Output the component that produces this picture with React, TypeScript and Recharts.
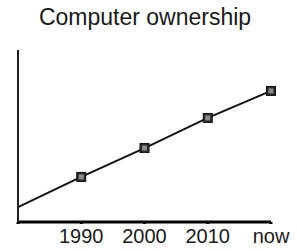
import React from 'react';
import { LineChart, Line, XAxis, YAxis } from 'recharts';

const years = [1980, 1990, 2000, 2010, 2020];
const ownership = [8.7, 26.2, 43, 60.5, 76.2];
const tickYears = [1980, 1990, 2000, 2010, 2020];
const tickLabels = ['', '1990', '2000', '2010', 'now'];

const data = years.map((year, i) => ({ year, ownership: ownership[i] }));

const fontFamily = '"Liberation Sans", Arial, Helvetica, sans-serif';

const SquareDot = (props: any) => {
  const { cx, cy, index } = props;
  if (index === 0 || cx == null || cy == null) return <g key={`dot-${index}`} />;
  return (
    <g key={`dot-${index}`}>
      <rect x={cx - 4.5} y={cy - 4.5} width={9} height={9} fill="#2a2a2a" stroke="#111" strokeWidth={1} />
      <rect x={cx - 2.5} y={cy - 2.5} width={5} height={5} fill="#8a8a8a" />
    </g>
  );
};

export default function App() {
  return (
    <div
      style={{
        position: 'absolute',
        left: 0,
        top: 0,
        width: 297,
        height: 251,
        background: '#fff',
        fontFamily,
      }}
    >
      <div
        style={{
          position: 'absolute',
          top: 6,
          left: 0,
          width: 290,
          textAlign: 'center',
          fontSize: 23,
          lineHeight: '22px',
          color: '#1a1a1a',
        }}
      >
        Computer ownership
      </div>
      <LineChart
        width={297}
        height={251}
        data={data}
        margin={{ top: 50, right: 26, bottom: 0, left: 17 }}
      >
        <XAxis
          dataKey="year"
          type="number"
          domain={[1980, 2020]}
          ticks={tickYears}
          tickFormatter={(v: number) => tickLabels[tickYears.indexOf(v)]}
          height={29}
          tickSize={2}
          tickMargin={5}
          stroke="#000"
          strokeWidth={3}
          tick={{ fill: '#1a1a1a', fontSize: 20, fontFamily }}
        />
        <YAxis
          type="number"
          domain={[0, 100]}
          width={1}
          tick={false}
          tickLine={false}
          stroke="#222"
          strokeWidth={2}
        />
        <Line
          type="linear"
          dataKey="ownership"
          stroke="#111"
          strokeWidth={2}
          dot={SquareDot}
          activeDot={false}
          isAnimationActive={false}
        />
      </LineChart>
    </div>
  );
}
